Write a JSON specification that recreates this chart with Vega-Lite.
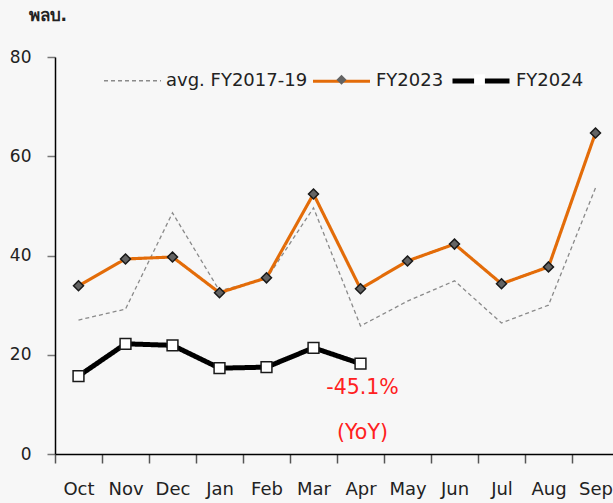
{
  "$schema": "https://vega.github.io/schema/vega-lite/v6.json",
  "width": 558,
  "height": 397,
  "autosize": {"type": "none"},
  "padding": {"left": 55, "top": 57, "right": 0, "bottom": 49},
  "background": "#f7f7f7",
  "config": {"view": {"stroke": null}, "font": "DejaVu Sans"},
  "data": {"values": [
    {"month": "Oct", "series": "avg. FY2017-19", "value": 27.0},
    {"month": "Nov", "series": "avg. FY2017-19", "value": 29.2},
    {"month": "Dec", "series": "avg. FY2017-19", "value": 48.6},
    {"month": "Jan", "series": "avg. FY2017-19", "value": 32.9},
    {"month": "Feb", "series": "avg. FY2017-19", "value": 35.3},
    {"month": "Mar", "series": "avg. FY2017-19", "value": 49.6},
    {"month": "Apr", "series": "avg. FY2017-19", "value": 25.8},
    {"month": "May", "series": "avg. FY2017-19", "value": 30.8},
    {"month": "Jun", "series": "avg. FY2017-19", "value": 34.9},
    {"month": "Jul", "series": "avg. FY2017-19", "value": 26.4},
    {"month": "Aug", "series": "avg. FY2017-19", "value": 30.0},
    {"month": "Sep", "series": "avg. FY2017-19", "value": 53.6},
    {"month": "Oct", "series": "FY2023", "value": 33.9},
    {"month": "Nov", "series": "FY2023", "value": 39.3},
    {"month": "Dec", "series": "FY2023", "value": 39.7},
    {"month": "Jan", "series": "FY2023", "value": 32.5},
    {"month": "Feb", "series": "FY2023", "value": 35.5},
    {"month": "Mar", "series": "FY2023", "value": 52.4},
    {"month": "Apr", "series": "FY2023", "value": 33.3},
    {"month": "May", "series": "FY2023", "value": 38.9},
    {"month": "Jun", "series": "FY2023", "value": 42.3},
    {"month": "Jul", "series": "FY2023", "value": 34.3},
    {"month": "Aug", "series": "FY2023", "value": 37.7},
    {"month": "Sep", "series": "FY2023", "value": 64.7},
    {"month": "Oct", "series": "FY2024", "value": 15.7},
    {"month": "Nov", "series": "FY2024", "value": 22.2},
    {"month": "Dec", "series": "FY2024", "value": 21.9},
    {"month": "Jan", "series": "FY2024", "value": 17.3},
    {"month": "Feb", "series": "FY2024", "value": 17.5},
    {"month": "Mar", "series": "FY2024", "value": 21.4},
    {"month": "Apr", "series": "FY2024", "value": 18.2}
  ]},
  "encoding": {
    "x": {
      "field": "month", "type": "ordinal",
      "sort": ["Oct","Nov","Dec","Jan","Feb","Mar","Apr","May","Jun","Jul","Aug","Sep"],
      "scale": {"type": "band", "range": [0, 564], "paddingInner": 0, "paddingOuter": 0},
      "bandPosition": 0.5,
      "axis": {
        "title": null, "tickBand": "extent", "labelAngle": 0,
        "domainColor": "#000", "domainWidth": 1.5,
        "tickColor": "#555", "tickWidth": 1.5, "tickSize": 9,
        "labelFontSize": 18, "labelColor": "#222", "labelPadding": 17, "labelBaseline": "top"
      }
    },
    "y": {
      "field": "value", "type": "quantitative",
      "scale": {"domain": [0, 80], "nice": false},
      "axis": {
        "values": [0, 20, 40, 60, 80], "grid": false,
        "domainColor": "#000", "domainWidth": 1.5,
        "tickColor": "#777", "tickWidth": 1.5, "tickSize": 8,
        "labelFontSize": 17, "labelColor": "#222", "labelPadding": 16,
        "title": "พลบ.", "titleAngle": 0, "titleAlign": "left", "titleBaseline": "middle",
        "titleX": -27, "titleY": -42, "titleFontSize": 17, "titleFontWeight": "bold", "titleColor": "#222"
      }
    }
  },
  "layer": [
    {
      "mark": {"type": "line"},
      "encoding": {
        "stroke": {
          "field": "series", "type": "nominal",
          "scale": {"domain": ["avg. FY2017-19", "FY2023", "FY2024"], "range": ["#8a8a8a", "#e36c09", "#000000"]},
          "legend": {
            "orient": "none", "legendX": 48, "legendY": -7, "direction": "horizontal", "title": null,
            "symbolType": "stroke", "symbolSize": 3249, "symbolStrokeWidth": 1.5,
            "labelFontSize": 18, "labelColor": "#222", "labelOffset": 4, "columnPadding": -2
          }
        },
        "strokeDash": {
          "field": "series", "type": "nominal",
          "scale": {"domain": ["avg. FY2017-19", "FY2023", "FY2024"], "range": [[4, 3], [1, 0], [1, 0]]}
        },
        "strokeWidth": {
          "field": "series", "type": "nominal",
          "scale": {"domain": ["avg. FY2017-19", "FY2023", "FY2024"], "range": [1.3, 5, 4.2]}
        }
      }
    },
    {
      "mark": {"type": "point", "filled": true, "opacity": 1, "stroke": "#1a1a1a", "strokeWidth": 1.5, "size": 3249},
      "encoding": {
        "shape": {
          "field": "series", "type": "nominal",
          "scale": {
            "domain": ["FY2024", "FY2023", "avg. FY2017-19"],
            "range": [
              "M-1,0M1,0M-0.19,-0.19L0.19,-0.19L0.19,0.19L-0.19,0.19Z",
              "M-1,0M1,0M0,-0.175L0.175,0L0,0.175L-0.175,0Z",
              "M-1,0M1,0"
            ]
          },
          "legend": {
            "orient": "none", "legendX": 45, "legendY": -7, "direction": "horizontal", "title": null,
            "values": ["avg. FY2017-19", "FY2023", "FY2024"],
            "symbolSize": 3249, "symbolStrokeWidth": 1.5, "symbolStrokeColor": "#1a1a1a",
            "labelFontSize": 18, "labelColor": "#222", "labelOpacity": 0, "labelOffset": 4, "columnPadding": 5
          }
        },
        "fill": {
          "field": "series", "type": "nominal",
          "scale": {
            "domain": ["FY2024", "FY2023", "avg. FY2017-19"],
            "range": ["#ffffff", "#636363", "transparent"]
          },
          "legend": {
            "orient": "none", "legendX": 45, "legendY": -7, "direction": "horizontal", "title": null,
            "values": ["avg. FY2017-19", "FY2023", "FY2024"],
            "symbolSize": 3249, "symbolStrokeWidth": 1.5, "symbolStrokeColor": "#1a1a1a",
            "labelFontSize": 18, "labelColor": "#222", "labelOpacity": 0, "labelOffset": 4, "columnPadding": 5
          }
        }
      }
    },
    {
      "data": {"values": [
        {"month": "Apr", "value": 13.2, "label": "-45.1%"},
        {"month": "Apr", "value": 4.3, "label": "(YoY)"}
      ]},
      "mark": {"type": "text", "color": "#ff2020", "fontSize": 20.5, "align": "center", "baseline": "middle", "dx": 2},
      "encoding": {
        "text": {"field": "label"}
      }
    }
  ]
}
